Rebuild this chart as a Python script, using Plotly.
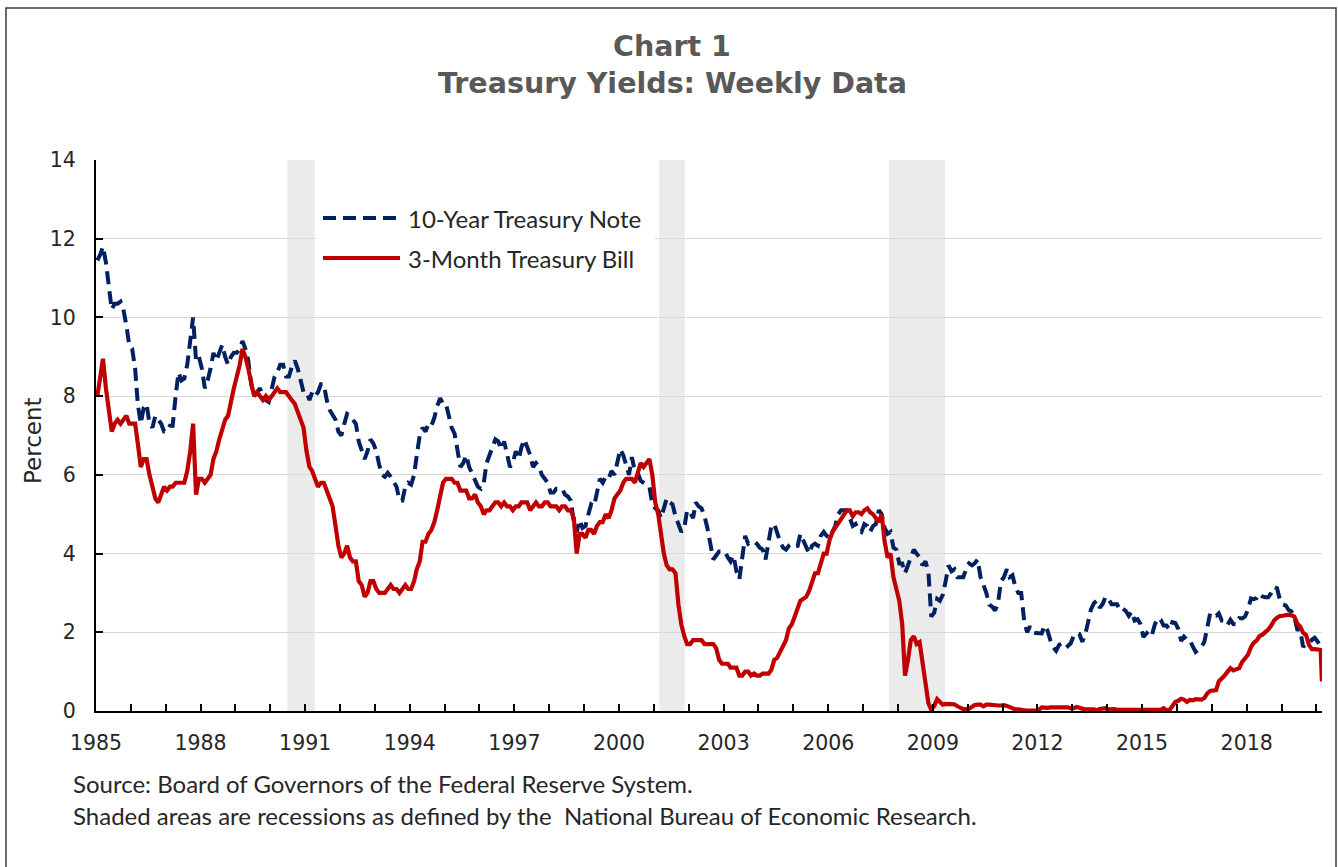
import pandas as pd
import plotly.graph_objects as go

# ---------------- data (monthly readings of the weekly series) ----------------
first_month = "1985-01-01"

note_10y = [
    11.45, 11.6, 11.8, 11.4, 10.8, 10.2, 10.35, 10.35, 10.4, 10.2, 9.8, 9.3,    # 1985
    9.2, 8.7, 7.8, 7.3, 7.7, 7.8, 7.3, 7.2, 7.5, 7.4, 7.3, 7.1,                 # 1986
    7.1, 7.25, 7.25, 8.0, 8.6, 8.4, 8.45, 8.8, 9.4, 10.0, 8.9, 9.0,             # 1987
    8.7, 8.2, 8.4, 8.7, 9.1, 8.9, 9.1, 9.3, 9.0, 8.8, 9.0, 9.1,                 # 1988
    9.1, 9.2, 9.4, 9.2, 8.9, 8.3, 8.0, 8.1, 8.2, 8.0, 7.9, 7.85,                # 1989
    8.2, 8.5, 8.6, 8.8, 8.8, 8.5, 8.5, 8.75, 8.9, 8.7, 8.4, 8.1,                # 1990
    8.1, 7.9, 8.1, 8.0, 8.1, 8.3, 8.3, 7.9, 7.65, 7.5, 7.4, 7.1,                # 1991
    7.0, 7.3, 7.55, 7.5, 7.4, 7.3, 6.85, 6.6, 6.4, 6.6, 6.9, 6.8,               # 1992
    6.6, 6.25, 6.0, 5.95, 6.05, 5.95, 5.8, 5.7, 5.35, 5.35, 5.7, 5.8,           # 1993
    5.75, 6.0, 6.5, 7.0, 7.2, 7.1, 7.3, 7.25, 7.45, 7.75, 7.95, 7.8,            # 1994
    7.8, 7.5, 7.2, 7.05, 6.6, 6.2, 6.3, 6.5, 6.2, 6.05, 5.9, 5.7,               # 1995
    5.65, 5.8, 6.3, 6.5, 6.75, 6.9, 6.85, 6.65, 6.85, 6.55, 6.2, 6.3,           # 1996
    6.6, 6.4, 6.7, 6.9, 6.7, 6.5, 6.2, 6.3, 6.2, 6.0, 5.9, 5.8,                 # 1997
    5.55, 5.55, 5.65, 5.65, 5.65, 5.5, 5.45, 5.35, 4.8, 4.55, 4.85, 4.65,       # 1998
    4.7, 5.0, 5.25, 5.2, 5.55, 5.9, 5.8, 5.95, 5.9, 6.1, 6.0, 6.3,              # 1999
    6.65, 6.5, 6.25, 6.0, 6.45, 6.1, 6.05, 5.85, 5.8, 5.75, 5.7, 5.25,          # 2000
    5.15, 5.1, 4.9, 5.15, 5.4, 5.3, 5.25, 4.95, 4.75, 4.55, 4.65, 5.1,          # 2001
    5.05, 4.9, 5.3, 5.2, 5.15, 4.95, 4.65, 4.25, 3.85, 3.95, 4.05, 4.05,        # 2002
    4.05, 3.9, 3.8, 3.95, 3.55, 3.35, 4.0, 4.45, 4.25, 4.3, 4.3, 4.25,          # 2003
    4.15, 4.1, 3.85, 4.35, 4.7, 4.75, 4.5, 4.3, 4.15, 4.1, 4.2, 4.25,           # 2004
    4.2, 4.2, 4.5, 4.35, 4.15, 4.0, 4.2, 4.25, 4.2, 4.45, 4.55, 4.45,           # 2005
    4.4, 4.55, 4.7, 5.0, 5.1, 5.1, 5.1, 4.9, 4.7, 4.75, 4.6, 4.55,              # 2006
    4.75, 4.7, 4.55, 4.7, 4.75, 5.1, 5.0, 4.65, 4.5, 4.55, 4.15, 4.1,           # 2007
    3.75, 3.75, 3.5, 3.7, 3.9, 4.1, 4.0, 3.9, 3.7, 3.8, 3.55, 2.4,              # 2008
    2.5, 2.85, 2.8, 2.95, 3.3, 3.7, 3.55, 3.6, 3.4, 3.4, 3.4, 3.6,              # 2009
    3.75, 3.7, 3.75, 3.85, 3.4, 3.2, 3.0, 2.7, 2.65, 2.55, 2.75, 3.3,           # 2010
    3.4, 3.6, 3.4, 3.45, 3.15, 3.0, 3.0, 2.3, 2.0, 2.15, 2.0, 1.98,             # 2011
    1.97, 1.97, 2.17, 2.05, 1.8, 1.62, 1.53, 1.68, 1.72, 1.75, 1.65, 1.72,      # 2012
    1.91, 1.98, 1.96, 1.76, 1.93, 2.3, 2.58, 2.74, 2.81, 2.62, 2.72, 2.9,       # 2013
    2.86, 2.71, 2.72, 2.71, 2.56, 2.6, 2.54, 2.42, 2.53, 2.3, 2.33, 2.21,       # 2014
    1.88, 1.98, 2.04, 1.94, 2.2, 2.36, 2.32, 2.17, 2.17, 2.07, 2.26, 2.24,      # 2015
    2.09, 1.78, 1.89, 1.81, 1.81, 1.64, 1.5, 1.56, 1.63, 1.76, 2.14, 2.49,      # 2016
    2.43, 2.42, 2.48, 2.3, 2.3, 2.19, 2.32, 2.21, 2.2, 2.36, 2.35, 2.4,         # 2017
    2.58, 2.86, 2.84, 2.87, 2.98, 2.91, 2.89, 2.89, 3.0, 3.15, 3.12, 2.83,      # 2018
    2.71, 2.68, 2.57, 2.53, 2.4, 2.07, 2.06, 1.63, 1.7, 1.71, 1.81, 1.86,       # 2019
    1.76, 1.65,                                                                 # 2020
]

bill_3m = [
    8.0, 8.6, 8.95, 8.2, 7.7, 7.1, 7.3, 7.4, 7.3, 7.4, 7.5, 7.3,                # 1985
    7.3, 7.3, 6.8, 6.2, 6.4, 6.4, 6.0, 5.7, 5.4, 5.3, 5.5, 5.7,                 # 1986
    5.6, 5.7, 5.7, 5.8, 5.8, 5.8, 5.8, 6.1, 6.6, 7.3, 5.5, 5.9,                 # 1987
    5.9, 5.8, 5.9, 6.0, 6.4, 6.6, 6.9, 7.2, 7.4, 7.5, 7.9, 8.2,                 # 1988
    8.5, 8.8, 9.2, 9.0, 8.7, 8.3, 8.0, 8.1, 8.0, 7.9, 8.0, 7.9,                 # 1989
    8.0, 8.1, 8.2, 8.1, 8.1, 8.1, 8.0, 7.9, 7.8, 7.6, 7.4, 7.2,                 # 1990
    6.6, 6.2, 6.1, 5.9, 5.7, 5.8, 5.8, 5.6, 5.4, 5.2, 4.7, 4.2,                 # 1991
    3.9, 4.0, 4.2, 3.9, 3.8, 3.8, 3.3, 3.2, 2.9, 3.0, 3.3, 3.3,                 # 1992
    3.1, 3.0, 3.0, 3.0, 3.1, 3.2, 3.1, 3.1, 3.0, 3.1, 3.2, 3.1,                 # 1993
    3.1, 3.3, 3.6, 3.8, 4.3, 4.3, 4.5, 4.6, 4.8, 5.1, 5.5, 5.8,                 # 1994
    5.9, 5.9, 5.9, 5.8, 5.8, 5.6, 5.6, 5.6, 5.4, 5.4, 5.5, 5.3,                 # 1995
    5.2, 5.0, 5.1, 5.1, 5.2, 5.3, 5.3, 5.2, 5.3, 5.2, 5.2, 5.1,                 # 1996
    5.2, 5.2, 5.3, 5.3, 5.3, 5.1, 5.2, 5.3, 5.2, 5.2, 5.3, 5.3,                 # 1997
    5.2, 5.2, 5.2, 5.1, 5.2, 5.2, 5.1, 5.1, 4.9, 4.0, 4.5, 4.5,                 # 1998
    4.4, 4.6, 4.6, 4.5, 4.7, 4.8, 4.8, 5.0, 4.9, 5.1, 5.4, 5.5,                 # 1999
    5.6, 5.8, 5.9, 5.9, 5.9, 5.8, 6.1, 6.3, 6.2, 6.3, 6.4, 6.0,                 # 2000
    5.3, 5.0, 4.5, 4.0, 3.7, 3.6, 3.6, 3.5, 2.7, 2.2, 1.9, 1.7,                 # 2001
    1.7, 1.8, 1.8, 1.8, 1.8, 1.7, 1.7, 1.7, 1.7, 1.6, 1.3, 1.2,                 # 2002
    1.2, 1.2, 1.1, 1.1, 1.1, 0.9, 0.9, 1.0, 1.0, 0.9, 0.95, 0.9,                # 2003
    0.9, 0.95, 0.95, 0.95, 1.05, 1.3, 1.35, 1.5, 1.7, 1.8, 2.1, 2.2,            # 2004
    2.4, 2.6, 2.8, 2.85, 2.9, 3.05, 3.3, 3.5, 3.5, 3.8, 4.0, 4.0,               # 2005
    4.35, 4.55, 4.65, 4.75, 4.85, 4.95, 5.1, 5.1, 4.95, 5.05, 5.05, 5.0,        # 2006
    5.1, 5.15, 5.05, 5.0, 4.9, 4.8, 5.0, 4.3, 3.9, 4.0, 3.4, 3.1,               # 2007
    2.8, 2.2, 0.9, 1.3, 1.8, 1.9, 1.7, 1.75, 1.2, 0.7, 0.2, 0.03,               # 2008
    0.13, 0.3, 0.22, 0.16, 0.18, 0.18, 0.18, 0.17, 0.12, 0.07, 0.05, 0.05,      # 2009
    0.06, 0.11, 0.15, 0.16, 0.16, 0.12, 0.16, 0.16, 0.15, 0.13, 0.14, 0.14,     # 2010
    0.15, 0.13, 0.10, 0.06, 0.04, 0.04, 0.04, 0.02, 0.01, 0.02, 0.01, 0.01,     # 2011
    0.03, 0.09, 0.08, 0.08, 0.09, 0.09, 0.10, 0.10, 0.11, 0.10, 0.09, 0.07,     # 2012
    0.07, 0.10, 0.09, 0.06, 0.04, 0.05, 0.04, 0.04, 0.02, 0.05, 0.07, 0.07,     # 2013
    0.04, 0.05, 0.05, 0.03, 0.03, 0.04, 0.03, 0.03, 0.02, 0.02, 0.02, 0.03,     # 2014
    0.03, 0.02, 0.03, 0.02, 0.02, 0.02, 0.03, 0.07, 0.02, 0.02, 0.13, 0.23,     # 2015
    0.26, 0.31, 0.29, 0.23, 0.28, 0.27, 0.30, 0.30, 0.29, 0.33, 0.45, 0.51,     # 2016
    0.52, 0.53, 0.75, 0.81, 0.90, 1.00, 1.09, 1.03, 1.05, 1.09, 1.25, 1.34,     # 2017
    1.43, 1.62, 1.73, 1.79, 1.90, 1.94, 1.99, 2.07, 2.17, 2.30, 2.37, 2.41,     # 2018
    2.42, 2.44, 2.45, 2.43, 2.40, 2.22, 2.15, 1.99, 1.93, 1.68, 1.57, 1.57,     # 2019
    1.55, 1.55,                                                                 # 2020
]
bill_3m_last_date = "2020-02-28"
bill_3m_last_value = 0.75

recession_starts = ["1990-06-28", "2001-02-26", "2007-10-01"]
recession_ends = ["1991-04-12", "2001-11-20", "2009-05-08"]

x_range = ["1985-01-01", "2020-02-29"]
y_ticks = [0, 2, 4, 6, 8, 10, 12, 14]

title_line1 = "Chart 1"
title_line2 = "Treasury Yields: Weekly Data"
series_names = ["10-Year Treasury Note", "3-Month Treasury Bill"]
source_lines = [
    "Source: Board of Governors of the Federal Reserve System.",
    "Shaded areas are recessions as defined by the  National Bureau of Economic Research.",
]

# ---------------- layout constants ----------------
W, H = 1338, 867
L, R, T, B = 96, 16, 160, 156
PW, PH = W - L - R, H - T - B
BLUE = "#002060"
RED = "#C00000"
DASH = "13px,7px"
TXT = "#262626"


def px(xp):
    return (xp - L) / PW


def py(yp):
    return (H - B - yp) / PH


note_dates = list(pd.date_range(first_month, periods=len(note_10y), freq="MS") + pd.Timedelta(days=14))
bill_dates = list(pd.date_range(first_month, periods=len(bill_3m), freq="MS") + pd.Timedelta(days=14))
bill_dates.append(pd.Timestamp(bill_3m_last_date))
bill_vals = bill_3m + [bill_3m_last_value]

fig = go.Figure()
fig.add_trace(go.Scatter(x=note_dates, y=note_10y, mode="lines", name=series_names[0],
                         line=dict(color=BLUE, width=4, dash=DASH), showlegend=False))
fig.add_trace(go.Scatter(x=bill_dates, y=bill_vals, mode="lines", name=series_names[1],
                         line=dict(color=RED, width=4.2), showlegend=False))

shapes = []
for s, e in zip(recession_starts, recession_ends):
    shapes.append(dict(type="rect", xref="x", yref="paper", x0=s, x1=e, y0=0, y1=1,
                       fillcolor="#ebebeb", line=dict(width=0), layer="below"))

# legend box (covers gridline) and sample lines
shapes.append(dict(type="rect", xref="paper", yref="paper", x0=px(316), x1=px(655),
                   y0=py(278), y1=py(192), fillcolor="white", line=dict(width=0), layer="above"))
shapes.append(dict(type="line", xref="paper", yref="paper", x0=px(323), x1=px(398),
                   y0=py(218), y1=py(218), line=dict(color=BLUE, width=4, dash=DASH)))
shapes.append(dict(type="line", xref="paper", yref="paper", x0=px(323), x1=px(400),
                   y0=py(258), y1=py(258), line=dict(color=RED, width=4.2)))
# outer frame
shapes.append(dict(type="rect", xref="paper", yref="paper", x0=px(6), x1=px(1336),
                   y0=py(900), y1=py(8), line=dict(color="#3a3a3a", width=1.5),
                   fillcolor="rgba(0,0,0,0)"))

annotations = [
    dict(text="<b>%s</b>" % title_line1, x=px(672), y=py(47), xref="paper", yref="paper",
         showarrow=False, xanchor="center", yanchor="middle",
         font=dict(family="DejaVu Sans", size=28.5, color="#595959")),
    dict(text="<b>%s</b>" % title_line2, x=px(672), y=py(84), xref="paper", yref="paper",
         showarrow=False, xanchor="center", yanchor="middle",
         font=dict(family="DejaVu Sans", size=28.5, color="#595959")),
    dict(text=series_names[0], x=px(406), y=py(218), xref="paper", yref="paper",
         showarrow=False, xanchor="left", yanchor="middle",
         font=dict(family="Lato", size=24, color=TXT)),
    dict(text=series_names[1], x=px(406), y=py(258), xref="paper", yref="paper",
         showarrow=False, xanchor="left", yanchor="middle",
         font=dict(family="Lato", size=24, color=TXT)),
    dict(text="Percent", x=px(33), y=py(441), xref="paper", yref="paper", textangle=-90,
         showarrow=False, xanchor="center", yanchor="middle",
         font=dict(family="DejaVu Sans", size=23, color=TXT)),
    dict(text=source_lines[0], x=px(71), y=py(783), xref="paper", yref="paper",
         showarrow=False, xanchor="left", yanchor="middle",
         font=dict(family="Lato", size=24, color=TXT)),
    dict(text=source_lines[1], x=px(71), y=py(815), xref="paper", yref="paper",
         showarrow=False, xanchor="left", yanchor="middle",
         font=dict(family="Lato", size=24, color=TXT)),
]

fig.update_layout(
    width=W, height=H,
    margin=dict(l=L, r=R, t=T, b=B, pad=0),
    paper_bgcolor="white", plot_bgcolor="white",
    shapes=shapes, annotations=annotations,
    font=dict(family="DejaVu Sans", color=TXT),
)
fig.update_xaxes(
    type="date", range=x_range, tick0="1985-01-01", dtick="M36", tickformat="%Y",
    ticks="inside", ticklen=7, tickwidth=1.5, tickcolor="black",
    minor=dict(dtick="M12", ticks="inside", ticklen=7, tickwidth=1.5, tickcolor="black", showgrid=False),
    showline=True, linecolor="black", linewidth=2, showgrid=False, zeroline=False,
    tickfont=dict(family="DejaVu Sans", size=20.5, color=TXT), ticklabelstandoff=12,
)
fig.update_yaxes(
    range=[0, 14], tickvals=y_ticks, ticks="inside", ticklen=7, tickwidth=1.5, tickcolor="black",
    showline=True, linecolor="black", linewidth=2, showgrid=True, gridcolor="#d9d9d9", gridwidth=1.3,
    zeroline=False, tickfont=dict(family="DejaVu Sans", size=20.5, color=TXT), ticklabelstandoff=14,
)

fig.write_html("out.html", config={"displayModeBar": False},
               post_script="document.body.style.margin='0';document.body.style.overflow='hidden';")
